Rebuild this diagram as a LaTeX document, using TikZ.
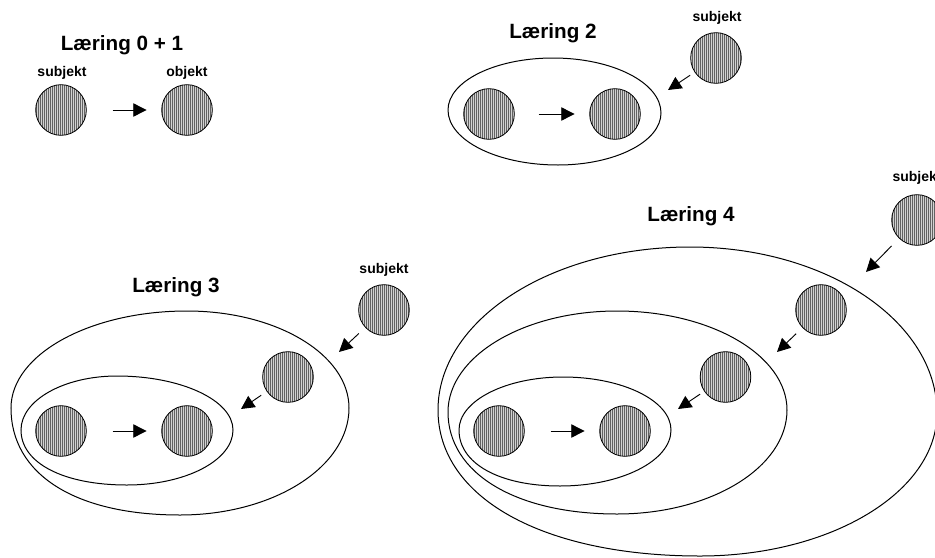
\documentclass[tikz,border=0pt]{standalone}
\usepackage{fontspec}
\setmainfont{Liberation Sans}
\usetikzlibrary{arrows.meta,patterns}

% fine vertical hatching for the shaded discs
\pgfdeclarepatternformonly{finestripes}{\pgfpoint{0pt}{0pt}}{\pgfpoint{1.5pt}{1pt}}{\pgfpoint{1.5pt}{1pt}}{%
  \pgfsetlinewidth{0.65pt}%
  \pgfpathmoveto{\pgfpoint{0.375pt}{-0.1pt}}%
  \pgfpathlineto{\pgfpoint{0.375pt}{1.1pt}}%
  \pgfusepath{stroke}}

\tikzset{
  disc/.style={circle, draw=black, line width=0.6pt, minimum size=38pt, inner sep=0pt,
    preaction={fill=gray!35}, pattern=finestripes, pattern color=black!85},
  title/.style={font=\bfseries\fontsize{15.5}{17}\selectfont},
  tag/.style={font=\bfseries\fontsize{10.5}{12}\selectfont},
  flow/.style={-{Triangle[length=10pt,width=10pt]}, line width=0.7pt},
  eggline/.style={line width=0.75pt},
}

% closed egg-like outline through left, top, right and bottom points;
% #9 sets the fullness of the lower-left quarter
\newcommand{\eggcurve}[9]{%
  \draw[eggline] (#1,#2)
    .. controls (#1,{#2-0.552*(#2-#4)}) and ({#3-0.552*(#3-#1)},#4) .. (#3,#4)
    .. controls ({#3+0.552*(#5-#3)},#4) and (#5,{#6-0.552*(#6-#4)}) .. (#5,#6)
    .. controls (#5,{#6+0.552*(#8-#6)}) and ({#7+0.552*(#5-#7)},#8) .. (#7,#8)
    .. controls ({#7-#9*(#7-#1)},#8) and (#1,{#2+#9*(#8-#2)}) .. cycle;}

\begin{document}
\begin{tikzpicture}[x=0.75pt,y=-0.75pt]
\clip (0,0) rectangle (935,557);

% ---- Læring 0 + 1
\node[title] (t1) at (122,45) {Læring 0 + 1};
\node[tag] (l1s) at (62,73) {subjekt};
\node[tag] (l1o) at (187,73) {objekt};
\node[disc] (s1) at (61,110) {};
\node[disc] (o1) at (187,110) {};
\draw[flow, shorten <=19.5pt, shorten >=11pt] (s1) -- (o1);

% ---- Læring 2
\node[title] (t2) at (553,33) {Læring 2};
\eggcurve{448}{110}{553}{58}{661}{113}{558}{165}{0.552}
\node[disc] (s2) at (489,114) {};
\node[disc] (o2) at (615,114) {};
\draw[flow, shorten <=18pt, shorten >=11pt] (s2) -- (o2);
\node[tag] (l2s) at (717,18) {subjekt};
\node[disc] (n2) at (716,58) {};
\coordinate (e2) at (668,90);
\draw[flow, shorten <=4pt] (n2) -- (e2);

% ---- Læring 3
\node[title] (t3) at (176,287) {Læring 3};
\eggcurve{11}{408}{187}{311}{349}{408}{180}{515}{0.62}
\eggcurve{21}{430}{117}{376}{233}{430}{127}{485}{0.6}
\node[disc] (s3) at (61,431) {};
\node[disc] (o3) at (187,431) {};
\draw[flow, shorten <=19.5pt, shorten >=11pt] (s3) -- (o3);
\node[disc] (m3) at (288,377) {};
\coordinate (e3b) at (241,409);
\draw[flow, shorten <=5pt] (m3) -- (e3b);
\node[tag] (l3s) at (384,270) {subjekt};
\node[disc] (n3) at (384,310) {};
\coordinate (e3a) at (339,352);
\draw[flow, shorten <=6.5pt] (n3) -- (e3a);

% ---- Læring 4
\node[title] (t4) at (691,216) {Læring 4};
\eggcurve{438}{410}{690}{247}{937}{413}{700}{556}{0.6}
\eggcurve{448}{412}{617}{311}{787}{410}{617}{514}{0.6}
\eggcurve{459}{430}{563}{377}{671}{430}{560}{486}{0.6}
\node[disc] (s4) at (499,431) {};
\node[disc] (o4) at (625,431) {};
\draw[flow, shorten <=19.5pt, shorten >=11pt] (s4) -- (o4);
\node[disc] (m4c) at (725.5,377) {};
\coordinate (e4c) at (678,409);
\draw[flow, shorten <=3.7pt] (m4c) -- (e4c);
\node[disc] (m4b) at (821,310) {};
\coordinate (e4b) at (777,352);
\draw[flow, shorten <=6.5pt] (m4b) -- (e4b);
\node[tag] (l4s) at (917,178) {subjekt};
\node[disc] (n4) at (917,220) {};
\coordinate (e4a) at (866,272);
\draw[flow, shorten <=8pt] (n4) -- (e4a);
\end{tikzpicture}
\end{document}
